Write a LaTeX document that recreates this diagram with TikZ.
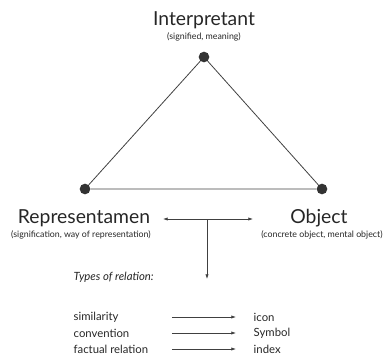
\documentclass[tikz,border=0pt]{standalone}
\usepackage{fontspec}
\setmainfont{Lato}
\usetikzlibrary{arrows.meta,positioning}

\begin{document}
\begin{tikzpicture}[x=0.75pt,y=-0.75pt]
\tikzstyle{every node}=[font=\footnotesize, text=black!85]
\tikzstyle{dot}=[circle, fill=black!80, inner sep=0pt, minimum size=8pt]
\tikzstyle{line}=[draw=black!75, line width=0.6pt]
\tikzstyle{rel}=[line, -{Latex[length=3.5pt,width=2.5pt]}]
\useasboundingbox (0,0) rectangle (387,358);
% triangle
\node[dot] (top) at (204,57) {};
\node[dot] (left) at (85,189) {};
\node[dot] (right) at (322,189) {};
\draw[line] (top) -- (left) -- (right) -- (top);
% corners
\node[font=\fontsize{14.5}{17}\selectfont] (interp) at (204,20) {Interpretant};
\node[font=\fontsize{6.6}{8}\selectfont] (interpsub) at (204,37) {(signified, meaning)};
\node[font=\fontsize{14.5}{17}\selectfont] (repr) at (84,218) {Representamen};
\node[font=\fontsize{6.6}{8}\selectfont] (reprsub) at (81,235) {(signification, way of representation)};
\node[font=\fontsize{14.5}{17}\selectfont] (obj) at (319,218) {Object};
\node[font=\fontsize{6.6}{8}\selectfont] (objsub) at (322,235) {(concrete object, mental object)};
% relation arrows
\coordinate (ra) at (163,219);
\coordinate (rb) at (253,219);
\coordinate (rm) at (207,219);
\coordinate (rd) at (207,279);
\draw[rel, {Latex[length=3.5pt,width=2.5pt]}-{Latex[length=3.5pt,width=2.5pt]}] (ra) -- (rb);
\draw[rel] (rm) -- (rd);
\node[anchor=west, font=\itshape\fontsize{8.5}{10}\selectfont] (types) at (69,277) {Types of relation:};
% types
\foreach \i/\a/\b/\y in {1/similarity/icon/317, 2/convention/Symbol/333, 3/factual relation/index/349} {
  \node[anchor=west, font=\fontsize{8.5}{10}\selectfont] (from\i) at (69,\y) {\a};
  \node[anchor=west, font=\fontsize{8.5}{10}\selectfont] (to\i) at (249,\y) {\b};
  \coordinate (fa\i) at (172,\y);
  \coordinate (fb\i) at (236,\y);
  \draw[rel] (fa\i) -- (fb\i);
}
\end{tikzpicture}
\end{document}
